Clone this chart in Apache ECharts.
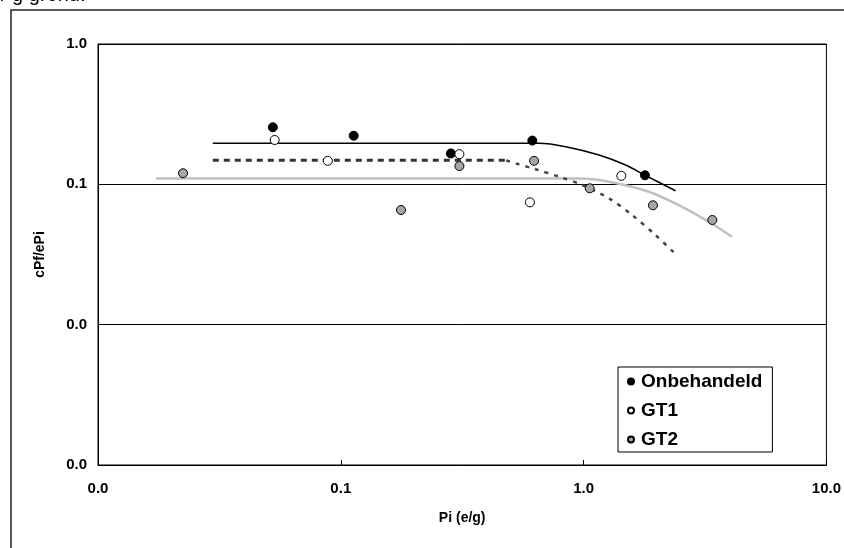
<!DOCTYPE html>
<html><head><meta charset="utf-8">
<script src="https://cdn.jsdelivr.net/npm/echarts@6/dist/echarts.min.js"></script>
<style>html,body{margin:0;padding:0;background:#fff}#c{width:844px;height:548px}</style>
</head><body><div id="c"></div>
<script>
// Scatter data [Pi (e/g), cPf/ePi]
const onbehandeld = [[0.0525,0.255],[0.113,0.222],[0.284,0.166],[0.615,0.205],[1.79,0.116]];
const gt1 = [[0.0534,0.207],[0.0884,0.147],[0.308,0.164],[0.601,0.0744],[1.43,0.115]];
const gt2 = [[0.0224,0.120],[0.177,0.0656],[0.308,0.135],[0.625,0.147],[1.06,0.0937],[1.93,0.0709],[3.39,0.0557]];
// Fitted curves
const fitOnb = [[0.0297,0.196],[0.656,0.196],[0.844,0.1854],[1.157,0.1618],[1.489,0.1373],[1.793,0.1159],[2.39,0.090]];
const fitGt1Flat = [[0.0297,0.1483],[0.48,0.1483]];
const fitGt1Curve = [[0.48,0.1483],[0.526,0.141],[0.635,0.128],[0.793,0.1133],[0.988,0.0989],[1.272,0.0795],[1.585,0.0604],[1.978,0.0435],[2.39,0.0318]];
const fitGt2 = [[0.0173,0.110],[0.957,0.110],[1.272,0.1044],[1.857,0.0886],[2.545,0.0692],[3.277,0.0541],[4.086,0.0423]];
const xRange = [0.01, 10];
const yRange = [0.001, 1];
const seriesNames = ['Onbehandeld','GT1','GT2'];

const font = '"Liberation Sans", Arial, sans-serif';
const chart = echarts.init(document.getElementById('c'));
const fmt = v => Number(v).toFixed(1);
const scatter = (name, data, fill) => ({
  name, type:'scatter', data, symbol:'circle', symbolSize:9, z:5,
  itemStyle:{color:fill, borderColor:'#000', borderWidth:1, opacity:1}
});
const line = (data, color, width, type, smooth) => ({
  type:'line', data, showSymbol:false, symbol:'none', smooth, z:3,
  lineStyle:{color, width, type}, silent:true
});
chart.setOption({
  animation:false,
  backgroundColor:'#fff',
  graphic:[
    {type:'rect', shape:{x:11,y:10,width:900,height:600}, style:{fill:'none', stroke:'#222', lineWidth:1.5}, z:-1},
    {type:'text', x:1, y:5, style:{text:'/ g grond.', font:'20px '+font, fill:'#000', verticalAlign:'bottom'}}
  ],
  grid:{left:98, right:16, top:44, bottom:83, show:true, borderColor:'#000', borderWidth:1, backgroundColor:'#fff'},
  legend:{
    data:seriesNames, orient:'vertical', left:618, top:367,
    itemWidth:6, itemHeight:6, itemGap:10, icon:'circle',
    padding:[5,10,3,9], backgroundColor:'#fff', borderColor:'#000', borderWidth:1,
    textStyle:{fontFamily:font, fontSize:19, fontWeight:'bold', color:'#000', padding:[0,0,0,2]}
  },
  xAxis:{
    type:'log', logBase:10, min:xRange[0], max:xRange[1],
    name:'Pi (e/g)', nameLocation:'middle', nameGap:46,
    nameTextStyle:{fontFamily:font, fontSize:14, fontWeight:'bold', color:'#000'},
    axisLine:{lineStyle:{color:'#000', width:1}},
    axisTick:{show:true, inside:true, length:5, lineStyle:{color:'#000'}},
    minorTick:{show:false}, splitLine:{show:false},
    axisLabel:{formatter:fmt, margin:16, fontFamily:font, fontSize:15, fontWeight:'bold', color:'#000'}
  },
  yAxis:{
    type:'log', logBase:10, min:yRange[0], max:yRange[1],
    name:'cPf/ePi', nameLocation:'middle', nameGap:51, nameRotate:90,
    nameTextStyle:{fontFamily:font, fontSize:14, fontWeight:'bold', color:'#000'},
    axisLine:{lineStyle:{color:'#000', width:1}},
    axisTick:{show:false}, minorTick:{show:false},
    splitLine:{show:true, lineStyle:{color:'#000', width:1}},
    axisLabel:{formatter:fmt, margin:11, fontFamily:font, fontSize:15, fontWeight:'bold', color:'#000'}
  },
  series:[
    line(fitGt2, '#c0c0c0', 2.5, 'solid', 0.3),
    line(fitGt1Flat, '#333', 3, [6,5], false),
    line(fitGt1Curve, '#444', 2.5, [4,6], 0.3),
    line(fitOnb, '#000', 1.5, 'solid', 0.3),
    scatter('Onbehandeld', onbehandeld, '#000'),
    scatter('GT1', gt1, '#fff'),
    scatter('GT2', gt2, '#a6a6a6')
  ]
});
</script></body></html>
